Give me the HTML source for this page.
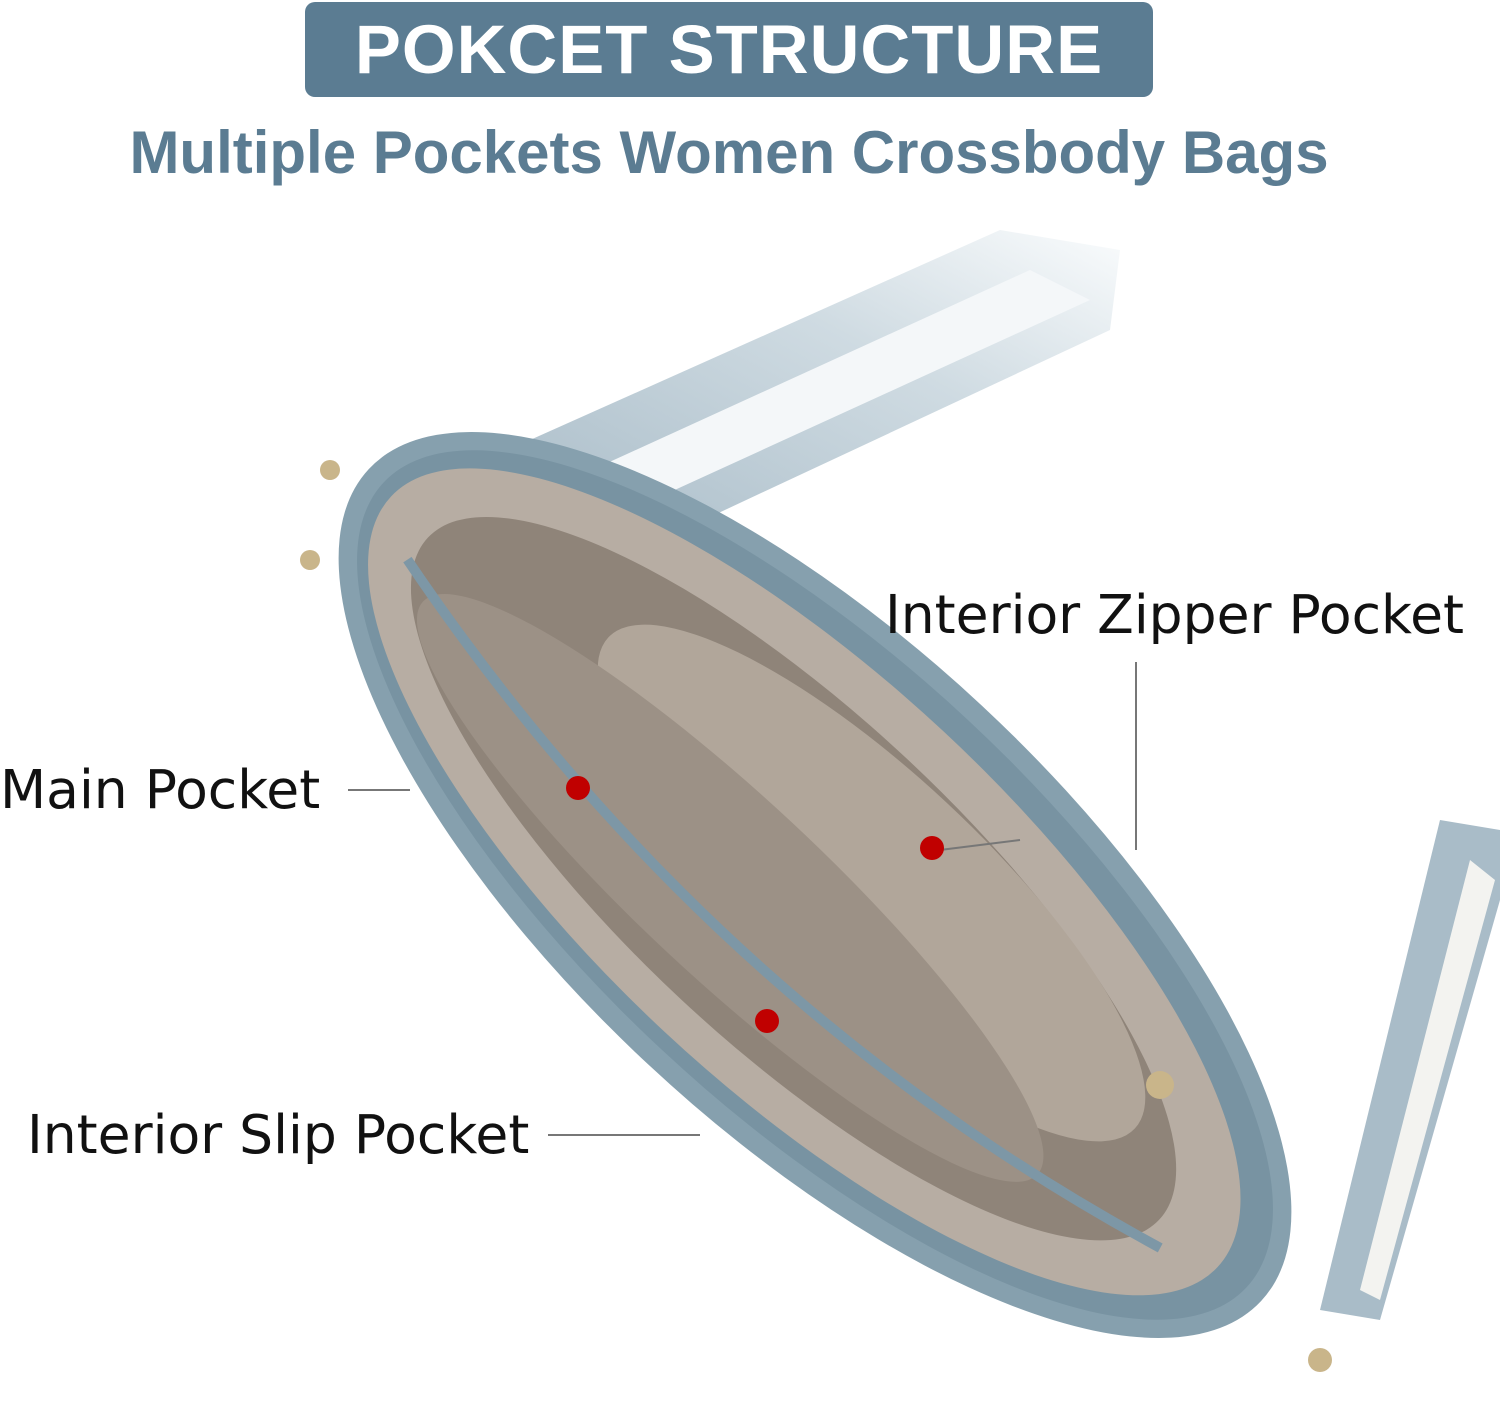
<!DOCTYPE html>
<html><head><meta charset="utf-8"><style>
html,body{margin:0;padding:0;background:#fff;}
body{width:1500px;height:1427px;overflow:hidden;position:relative;font-family:"Liberation Sans",sans-serif;}
.banner{position:absolute;left:305px;top:2px;width:848px;height:95px;background:#5b7c92;border-radius:10px;color:#fff;font-weight:bold;font-size:69px;text-align:center;line-height:95px;letter-spacing:1px;}
.sub{position:absolute;left:0;width:1458px;top:118px;text-align:center;color:#5b7c92;font-weight:bold;font-size:60px;line-height:70px;}
.lbl{position:absolute;color:#111;font-family:"DejaVu Sans",sans-serif;font-size:53.5px;line-height:60px;white-space:nowrap;}
svg{position:absolute;left:0;top:0;}
</style></head><body>
<svg width="1500" height="1427" viewBox="0 0 1500 1427">
<defs>
<linearGradient id="fade" x1="0" y1="1" x2="1" y2="0">
<stop offset="0" stop-color="#a9bcc8"/><stop offset="0.6" stop-color="#cfdbe2"/><stop offset="1" stop-color="#fafcfd"/>
</linearGradient>
</defs>
<polygon points="530,440 1000,230 1120,250 1110,330 650,545" fill="url(#fade)"/>
<polygon points="570,480 1030,270 1090,300 620,515" fill="#f4f7f9"/>
<polygon points="1440,820 1500,830 1500,900 1380,1320 1320,1310" fill="#a9bcc8"/>
<polygon points="1470,860 1495,880 1380,1300 1360,1290" fill="#f3f3f0"/>
<g transform="translate(815,885) rotate(43)">
<ellipse cx="0" cy="0" rx="610" ry="245" fill="#86a0ae"/>
<ellipse cx="0" cy="0" rx="590" ry="225" fill="#7893a2"/>
<ellipse cx="-10" cy="5" rx="565" ry="205" fill="#b7ada3"/>
<ellipse cx="-20" cy="10" rx="500" ry="165" fill="#8f8479"/>
<ellipse cx="40" cy="-40" rx="360" ry="110" fill="#b1a69a"/>
<ellipse cx="-60" cy="60" rx="420" ry="90" fill="#9c9186"/>
<path d="M-520,40 Q0,160 500,30" stroke="#7d97a6" stroke-width="10" fill="none"/>
</g>
<circle cx="330" cy="470" r="10" fill="#c9b58a"/>
<circle cx="310" cy="560" r="10" fill="#c9b58a"/>
<circle cx="1320" cy="1360" r="12" fill="#c9b58a"/>
<circle cx="1160" cy="1085" r="14" fill="#c9b58a"/>
<line x1="1136" y1="662" x2="1136" y2="850" stroke="#777" stroke-width="2"/>
<line x1="940" y1="850" x2="1020" y2="840" stroke="#777" stroke-width="2"/>
<line x1="348" y1="790" x2="410" y2="790" stroke="#777" stroke-width="2"/>
<line x1="548" y1="1135" x2="700" y2="1135" stroke="#777" stroke-width="2"/>
<circle cx="578" cy="788" r="12" fill="#c00000"/>
<circle cx="932" cy="848" r="12" fill="#c00000"/>
<circle cx="767" cy="1021" r="12" fill="#c00000"/>
</svg>
<div class="banner">POKCET STRUCTURE</div>
<div class="sub">Multiple Pockets Women Crossbody Bags</div>
<div class="lbl" style="left:885px;top:585px;">Interior Zipper Pocket</div>
<div class="lbl" style="left:0px;top:760px;">Main Pocket</div>
<div class="lbl" style="left:27px;top:1105px;">Interior Slip Pocket</div>
</body></html>
